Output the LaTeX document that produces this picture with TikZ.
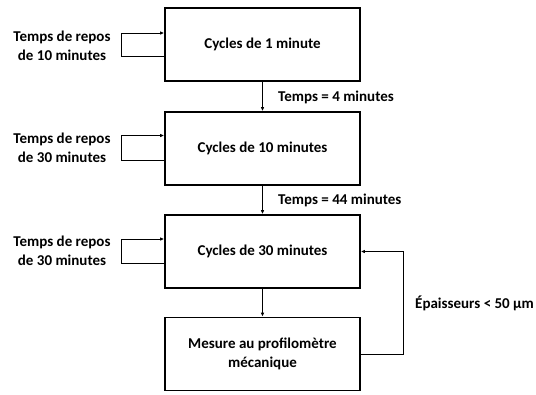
\documentclass[tikz,border=0pt]{standalone}
\usepackage{fontspec}
\setmainfont{Carlito}
\usetikzlibrary{arrows.meta}
\begin{document}
\begin{tikzpicture}[x=1pt,y=-1pt,
  box/.style={draw,line width=1.6pt,minimum width=195pt,minimum height=73pt,align=center,font=\bfseries\fontsize{15}{19.5}\selectfont},
  lbl/.style={align=center,font=\bfseries\fontsize{15}{19.5}\selectfont,inner sep=0pt},
  conn/.style={line width=0.9pt,-{Latex[length=4pt,width=3.5pt]}}]
\useasboundingbox (0,0) rectangle (536,394);
\node[box] (b1) at (262.5,44.5) {Cycles de 1 minute};
\node[box] (b2) at (262.5,148.5) {Cycles de 10 minutes};
\node[box] (b3) at (262.5,251.5) {Cycles de 30 minutes};
\node[box] (b4) at (262.5,354) {Mesure au profilomètre\\mécanique};
\draw[conn] (b1) -- (b2);
\draw[conn] (b2) -- (b3);
\draw[conn] (b3) -- (b4);
\node[lbl,anchor=west] (t1) at (278,97) {Temps = 4 minutes};
\node[lbl,anchor=west] (t2) at (278,200) {Temps = 44 minutes};
% left loops
\node[lbl] (l1) at (62,46) {Temps de repos\\de 10 minutes};
\node[lbl] (l2) at (62,148) {Temps de repos\\de 30 minutes};
\node[lbl] (l3) at (62,251) {Temps de repos\\de 30 minutes};
\draw[conn] ([yshift=-12pt]b1.west) -- ++(-43,0) |- ([yshift=11.5pt]b1.west);
\draw[conn] ([yshift=-12pt]b2.west) -- ++(-43,0) |- ([yshift=13pt]b2.west);
\draw[conn] ([yshift=-12pt]b3.west) -- ++(-43,0) |- ([yshift=12.5pt]b3.west);
% feedback
\coordinate (fr) at (403,0);
\draw[conn] (b4.east) -- (b4.east -| fr) -- (b3.east -| fr) -- (b3.east);
\node[lbl,anchor=west] (ep) at (415,303) {Épaisseurs < 50 µm};
\end{tikzpicture}
\end{document}
